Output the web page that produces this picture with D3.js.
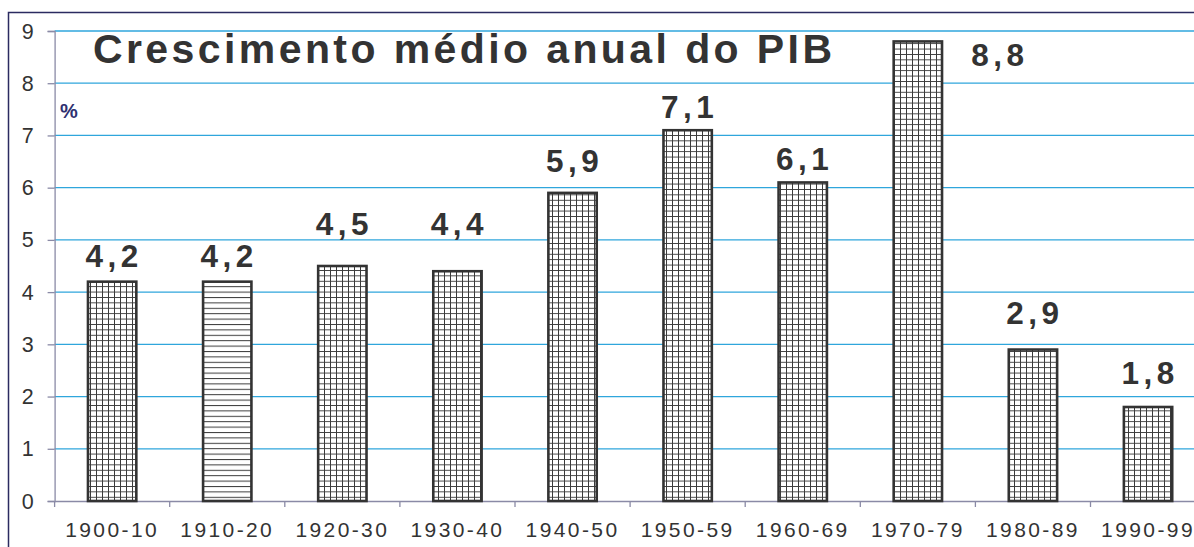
<!DOCTYPE html>
<html>
<head>
<meta charset="utf-8">
<script src="https://cdn.jsdelivr.net/npm/d3@7"></script>
<style>
  body { margin: 0; background: #fff; }
  svg { display: block; font-family: Arial, "Liberation Sans", sans-serif; }
</style>
</head>
<body>
<div id="main"></div>
<script>
// data
var periods = ['1900-10', '1910-20', '1920-30', '1930-40', '1940-50', '1950-59', '1960-69', '1970-79', '1980-89', '1990-99'];
var growth = [4.2, 4.2, 4.5, 4.4, 5.9, 7.1, 6.1, 8.8, 2.9, 1.8];
var valueLabels = ['4,2', '4,2', '4,5', '4,4', '5,9', '7,1', '6,1', '8,8', '2,9', '1,8'];
var yTicks = [0, 1, 2, 3, 4, 5, 6, 7, 8, 9];
var hatch = ['grid', 'horiz', 'grid', 'grid', 'grid', 'grid', 'grid', 'grid', 'grid', 'grid'];

// label nudges (px above bar top) to follow the original placement
var labelGap = [15, 15, 31, 36, 21, 12, 12, 0, 26, 23];

var W = 1194, H = 547;
var svg = d3.select('#main').append('svg')
    .attr('width', W).attr('height', H);

var defs = svg.append('defs');
var pg = defs.append('pattern').attr('id', 'grid')
    .attr('patternUnits', 'userSpaceOnUse')
    .attr('width', 6).attr('height', 5.4);
pg.append('rect').attr('width', 6).attr('height', 5.4).attr('fill', '#fff');
pg.append('path').attr('d', 'M0,0.5H6M0.5,0V5.4')
    .attr('stroke', '#3a3a3a').attr('stroke-width', 1).attr('fill', 'none');
var ph = defs.append('pattern').attr('id', 'horiz')
    .attr('patternUnits', 'userSpaceOnUse')
    .attr('width', 6).attr('height', 5.4);
ph.append('rect').attr('width', 6).attr('height', 5.4).attr('fill', '#fff');
ph.append('path').attr('d', 'M0,0.5H6')
    .attr('stroke', '#3a3a3a').attr('stroke-width', 1).attr('fill', 'none');

// outer frame
svg.append('rect')
    .attr('x', 8.5).attr('y', 12.5)
    .attr('width', 1400).attr('height', 700)
    .attr('fill', 'none').attr('stroke', '#2b2b60').attr('stroke-width', 1.5);

var x = d3.scaleBand().domain(periods).range([54.6, 1205.6]).padding(0);
var y = d3.scaleLinear().domain([0, 9]).range([501, 31]);

// gridlines
svg.append('g').selectAll('line')
    .data(yTicks.filter(function (d) { return d > 0; }))
    .join('line')
    .attr('x1', 54.6).attr('x2', W)
    .attr('y1', function (d) { return y(d); })
    .attr('y2', function (d) { return y(d); })
    .attr('stroke', '#2fa6dc').attr('stroke-width', 1.3);

// y axis
var yAxis = svg.append('g')
    .attr('transform', 'translate(54.6,0)')
    .call(d3.axisLeft(y).tickValues(yTicks).tickSize(7).tickPadding(14).tickFormat(d3.format('d')));
yAxis.select('.domain').attr('stroke', '#8a8aa6').attr('stroke-width', 1.3);
yAxis.selectAll('.tick line').attr('stroke', '#8a8aa6').attr('stroke-width', 1.3);
yAxis.selectAll('.tick text')
    .attr('font-size', 21.5).attr('fill', '#333')
    .attr('font-family', 'Arial, "Liberation Sans", sans-serif')
    .attr('dy', '0.33em');

// x axis
var xAxis = svg.append('g')
    .attr('transform', 'translate(0,501)')
    .call(d3.axisBottom(x).tickSize(0).tickPadding(21));
xAxis.select('.domain').attr('stroke', '#8a8aa6').attr('stroke-width', 1.3);
xAxis.selectAll('.tick text')
    .attr('font-size', 21).attr('fill', '#333')
    .attr('letter-spacing', 2.4)
    .attr('font-family', 'Arial, "Liberation Sans", sans-serif');
// ticks between categories
xAxis.append('g').selectAll('line')
    .data(periods)
    .join('line')
    .attr('x1', function (d) { return x(d); })
    .attr('x2', function (d) { return x(d); })
    .attr('y1', 0).attr('y2', 6)
    .attr('stroke', '#8a8aa6').attr('stroke-width', 1.3);

// bars
var barW = x.bandwidth() * 0.42;
svg.append('g').selectAll('rect')
    .data(growth)
    .join('rect')
    .attr('x', function (d, i) { return x(periods[i]) + (x.bandwidth() - barW) / 2; })
    .attr('y', function (d) { return y(d); })
    .attr('width', barW)
    .attr('height', function (d) { return y(0) - y(d); })
    .attr('fill', function (d, i) { return 'url(#' + hatch[i] + ')'; })
    .attr('stroke', '#333').attr('stroke-width', 2.6);

// value labels
svg.append('g').selectAll('text')
    .data(growth)
    .join('text')
    .attr('x', function (d, i) {
        var cx = x(periods[i]) + x.bandwidth() / 2 + 2;
        return i === 7 ? cx + 80 : cx;
    })
    .attr('y', function (d, i) { return i === 7 ? y(d) + 25 : y(d) - labelGap[i]; })
    .attr('text-anchor', 'middle')
    .attr('font-size', 31.5).attr('font-weight', 'bold')
    .attr('letter-spacing', 4.5)
    .attr('fill', '#333')
    .text(function (d, i) { return valueLabels[i]; });

// title
svg.append('text')
    .attr('x', 93).attr('y', 63)
    .attr('font-size', 41).attr('font-weight', 'bold')
    .attr('fill', '#333')
    .attr('textLength', 739).attr('lengthAdjust', 'spacing')
    .text('Crescimento médio anual do PIB');

// unit
svg.append('text')
    .attr('x', 60).attr('y', 118)
    .attr('font-size', 20).attr('font-weight', 'bold')
    .attr('fill', '#2e3070')
    .text('%');
</script>
</body>
</html>
